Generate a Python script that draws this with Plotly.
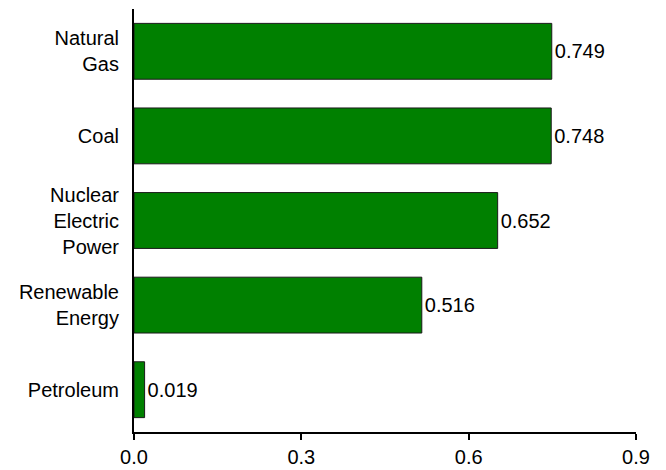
import plotly.graph_objects as go

categories = ["Natural<br>Gas", "Coal", "Nuclear<br>Electric<br>Power", "Renewable<br>Energy", "Petroleum"]
values = [0.749, 0.748, 0.652, 0.516, 0.019]
labels = ["0.749", "0.748", "0.652", "0.516", "0.019"]

fig = go.Figure(go.Bar(
    x=values, y=categories, orientation="h",
    marker=dict(color="#008000", line=dict(color="#1a1a1a", width=1)),
    width=0.66,
    text=labels, textposition="outside", cliponaxis=False,
    textfont=dict(size=20, color="black", family="Liberation Sans, Arial"),
))

fig.update_layout(
    width=666, height=470,
    margin=dict(l=126, r=38, t=1, b=46, autoexpand=False),
    plot_bgcolor="white", paper_bgcolor="white",
    font=dict(family="Liberation Sans, Arial", size=20, color="black"),
    showlegend=False,
)
fig.update_xaxes(
    range=[0, 0.9], tickvals=[0, 0.3, 0.6, 0.9], ticktext=["0.0", "0.3", "0.6", "0.9"],
    showgrid=False, zeroline=False, showline=True, linecolor="black", linewidth=2,
    ticks="outside", ticklen=6, tickwidth=2, tickcolor="black",
    tickfont=dict(size=20),
)
fig.update_yaxes(
    autorange=False, range=[4.5, -0.5], categoryorder="array", categoryarray=categories,
    showgrid=False, zeroline=False, showline=True, linecolor="black", linewidth=2,
    ticks="", ticklabelstandoff=9,
    tickfont=dict(size=20),
)

fig.write_html("out.html")
